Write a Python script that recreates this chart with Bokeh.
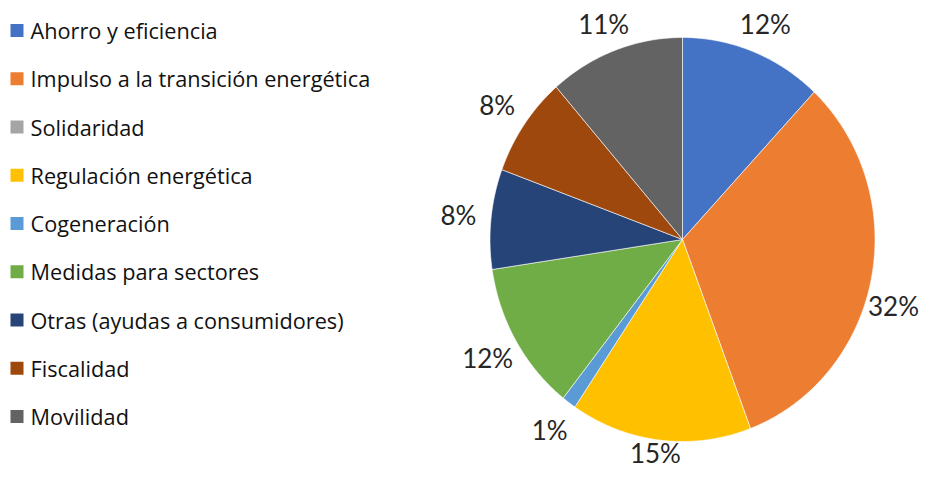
import numpy as np
from bokeh.plotting import figure
from bokeh.models import Range1d
from bokeh.core.properties import value
from bokeh.embed import file_html
from bokeh.resources import INLINE

categories = ["Ahorro y eficiencia", "Impulso a la transición energética", "Solidaridad",
              "Regulación energética", "Cogeneración", "Medidas para sectores",
              "Otras (ayudas a consumidores)", "Fiscalidad", "Movilidad"]
values = [12.0, 32.3, 0.0, 15.2, 1.2, 12.0, 8.0, 8.0, 11.4]
colors = ["#4472C4", "#ED7D31", "#A5A5A5", "#FFC000", "#5B9BD5", "#70AD47",
          "#264478", "#9E480E", "#636363"]

W, H = 921, 468
cx, cy = 682.0, 239.0
rx, ry = 192.5, 202.0
label_r = 1.17
lab_fs = 26
half_w, ink_h, box_h = 24, 9, 21
gap = 2

p = figure(width=W, height=H, output_backend="svg", toolbar_location=None,
           x_range=Range1d(0, W), y_range=Range1d(H, 0), min_border=0)
p.axis.visible = False
p.grid.visible = False
p.outline_line_color = None
p.background_fill_color = "white"
p.border_fill_color = "white"


def overlaps(x0, y0):
    for sx in (-1, 1):
        for sy in (-1, 1):
            u = (x0 + sx * half_w - cx) / (rx + gap)
            v = (y0 + sy * ink_h - cy) / (ry + gap)
            if u * u + v * v < 1:
                return True
    return False


total = float(sum(values))
fr = np.array(values) / total
cum = np.concatenate([[0.0], np.cumsum(fr)])

xs, ys, cols = [], [], []
lx, ly, lt = [], [], []
for i, f in enumerate(fr):
    if f <= 0:
        continue
    n = max(3, int(f * 720))
    t = np.pi / 2 - 2 * np.pi * np.linspace(cum[i], cum[i + 1], n)
    px = np.concatenate([[cx], cx + rx * np.cos(t)])
    py = np.concatenate([[cy], cy - ry * np.sin(t)])
    xs.append(list(px)); ys.append(list(py)); cols.append(colors[i])
    tm = np.pi / 2 - 2 * np.pi * (cum[i] + cum[i + 1]) / 2
    x0 = cx + label_r * rx * np.cos(tm)
    y0 = cy - label_r * ry * np.sin(tm)
    # keep labels inside the canvas, then slide them clear of the pie
    xc = min(max(x0, half_w + 4), W - half_w - 4)
    yc = min(max(y0, box_h + 2), H - box_h - 2)
    for _ in range(80):
        if not overlaps(xc, yc):
            break
        if xc != x0:
            yc += 1 if yc >= cy else -1
        elif yc != y0:
            xc += 1 if xc >= cx else -1
        else:
            break
    lx.append(xc); ly.append(yc)
    lt.append(f"{round(f * 100)}%")

p.patches(xs=xs, ys=ys, fill_color=cols, line_color="white", line_width=0.6)
p.text(x=lx, y=ly, text=lt, text_align="center", text_baseline="middle",
       text_font=value("Lato"), text_font_size=f"{lab_fs}px", text_color="#262626")

# legend
rows = 30 + 48.25 * np.arange(len(categories))
p.rect(x=[16.5] * len(categories), y=list(rows), width=13, height=13,
       fill_color=colors, line_color=None)
p.text(x=[30] * len(categories), y=list(rows), text=categories,
       text_align="left", text_baseline="middle",
       text_font=value("Open Sans"), text_font_size="21.7px", text_color="#111111")

open("out.html", "w").write(file_html(p, INLINE))
